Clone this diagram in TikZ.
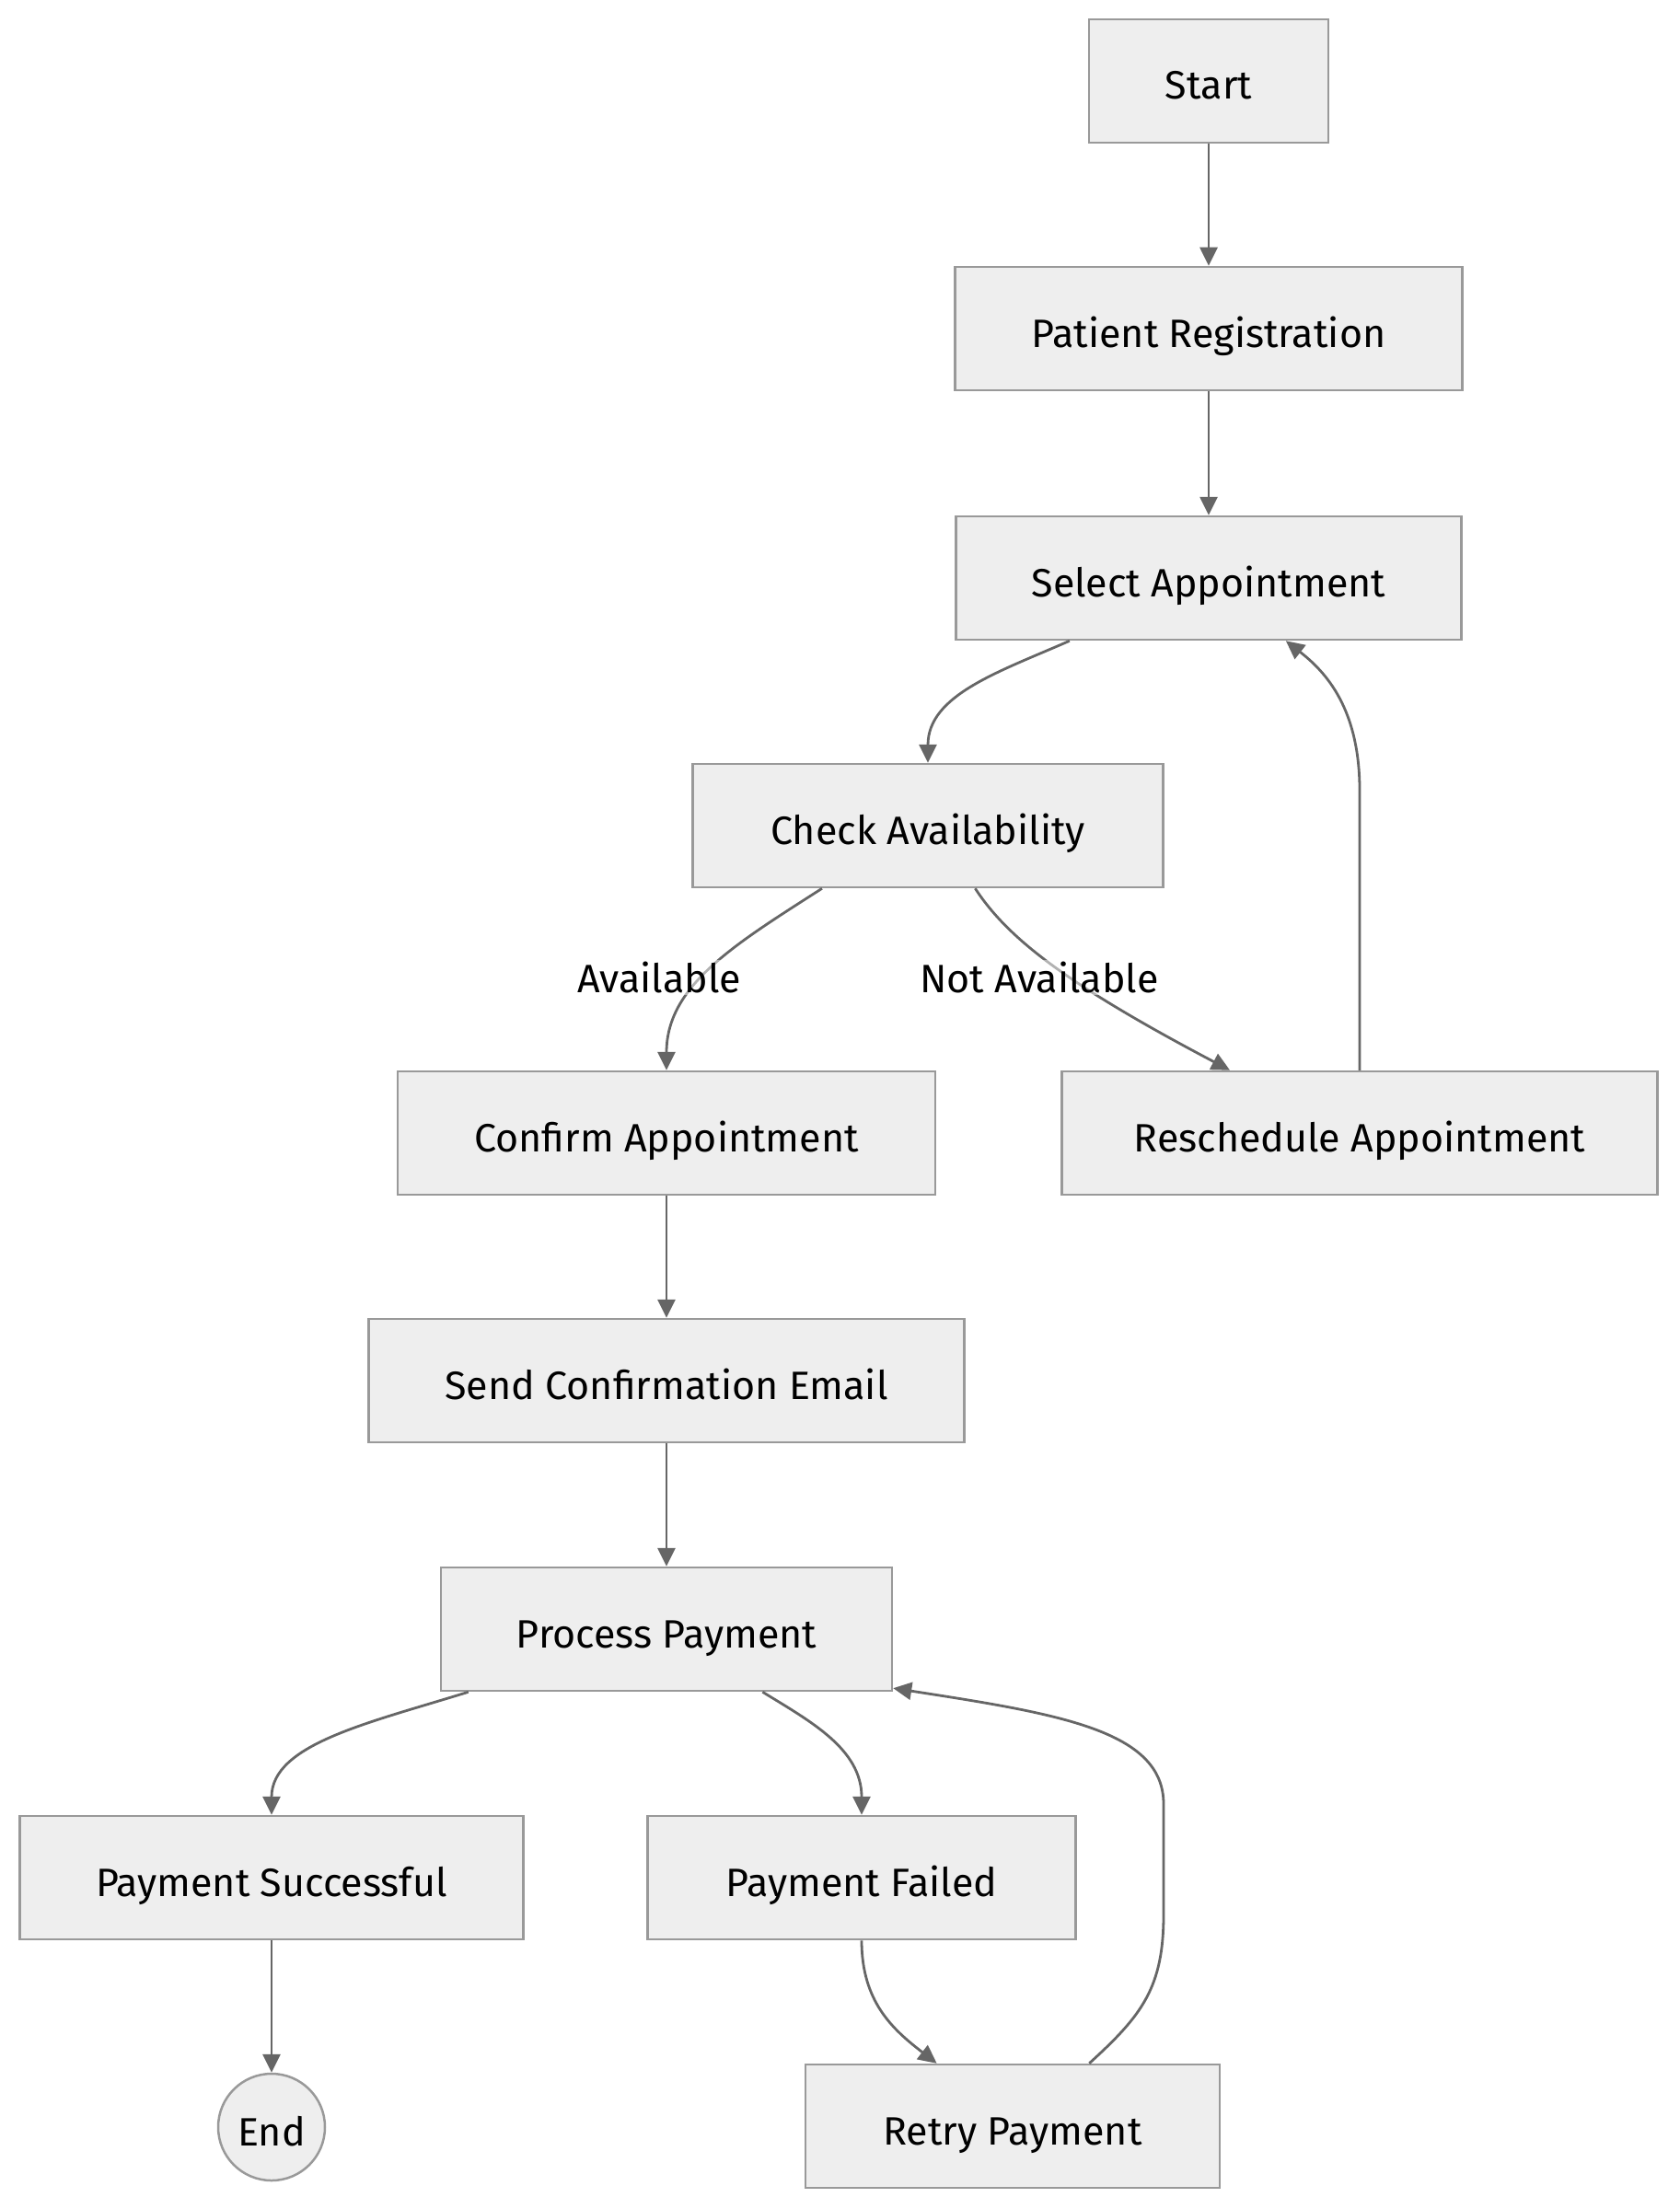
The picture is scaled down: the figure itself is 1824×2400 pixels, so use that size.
\documentclass[tikz,border=0pt]{standalone}
\usepackage{fontspec}
\setmainfont{Fira Sans}
\usetikzlibrary{arrows.meta,calc}
\definecolor{boxfill}{HTML}{EEEEEE}
\definecolor{boxline}{HTML}{999999}
\definecolor{wire}{HTML}{666666}
\tikzset{
	stepbox/.style={draw=boxline,fill=boxfill,line width=2.5pt,minimum height=134pt,text height=40pt,text depth=0pt,font=\fontsize{43}{50}\selectfont},
	endcirc/.style={circle,draw=boxline,fill=boxfill,line width=2.5pt,minimum size=116pt,inner sep=0pt,text height=40pt,text depth=0pt,font=\fontsize{43}{50}\selectfont},
	flow/.style={draw=wire,line width=2.8pt,-{Triangle[length=20pt,width=19pt]}},
	lbl/.style={fill=white,fill opacity=.5,text opacity=1,inner sep=2pt,font=\fontsize{43}{50}\selectfont},
}
\begin{document}
\begin{tikzpicture}[x=1pt,y=-1pt]
	\useasboundingbox (0,0) rectangle (1824,2400);
	% steps
	\node[stepbox,minimum width=260pt] (start) at (1313,88){Start};
	\node[stepbox,minimum width=551pt] (reg) at (1313,357){Patient Registration};
	\node[stepbox,minimum width=549pt] (select) at (1313,628){Select Appointment};
	\node[stepbox,minimum width=511pt] (check) at (1008,897){Check Availability};
	\node[stepbox,minimum width=584pt] (confirm) at (724,1231){Confirm Appointment};
	\node[stepbox,minimum width=647pt] (resched) at (1477,1231){Reschedule Appointment};
	\node[stepbox,minimum width=647pt] (email) at (724,1500){Send Confirmation Email};
	\node[stepbox,minimum width=490pt] (pay) at (724,1770){Process Payment};
	\node[stepbox,minimum width=547pt] (paysucc) at (295,2040){Payment Successful};
	\node[stepbox,minimum width=465pt] (payfail) at (936,2040){Payment Failed};
	\node[endcirc] (fin) at (295,2311){End};
	\node[stepbox,minimum width=450pt] (retry) at (1100,2310){Retry Payment};
	% straight links
	\draw[flow] (start) -- (reg);
	\draw[flow] (reg) -- (select);
	\draw[flow] (confirm) -- (email);
	\draw[flow] (email) -- (pay);
	\draw[flow] (paysucc) -- (fin);
	% curved links
	\draw[flow] ($(select.south west)!.226!(select.south east)$) .. controls (1085,730) and (1008,755) .. (check.north);
	\draw[flow] ($(check.south west)!.276!(check.south east)$) coordinate (a1) .. controls (800,1025) and (724,1070) .. (confirm.north);
	\draw[flow] ($(check.south west)!.6!(check.south east)$) coordinate (b1) .. controls (1095,1020) and (1160,1070) .. ($(resched.north west)!.283!(resched.north east)$);
	\draw[flow] (resched.north) -- ++(0,-300) .. controls (1478,770) and (1440,730) .. ($(select.south west)!.652!(select.south east)$);
	\draw[flow] ($(pay.south west)!.063!(pay.south east)$) .. controls (400,1872) and (295,1895) .. (paysucc.north);
	\draw[flow] ($(pay.south west)!.712!(pay.south east)$) .. controls (880,1870) and (936,1900) .. (payfail.north);
	\draw[flow] (payfail.south) .. controls (936,2175) and (970,2205) .. ($(retry.north west)!.318!(retry.north east)$);
	\draw[flow] ($(retry.north west)!.684!(retry.north east)$) .. controls (1240,2190) and (1264,2160) .. (1264,2080) -- (1264,1960) .. controls (1264,1880) and (1150,1862) .. ($(pay.east)!.94!(pay.south east)$);
	% labels
	\node[lbl] (avail) at (716,1062){Available};
	\node[lbl] (notavail) at (1129,1062){Not Available};
\end{tikzpicture}
\end{document}
